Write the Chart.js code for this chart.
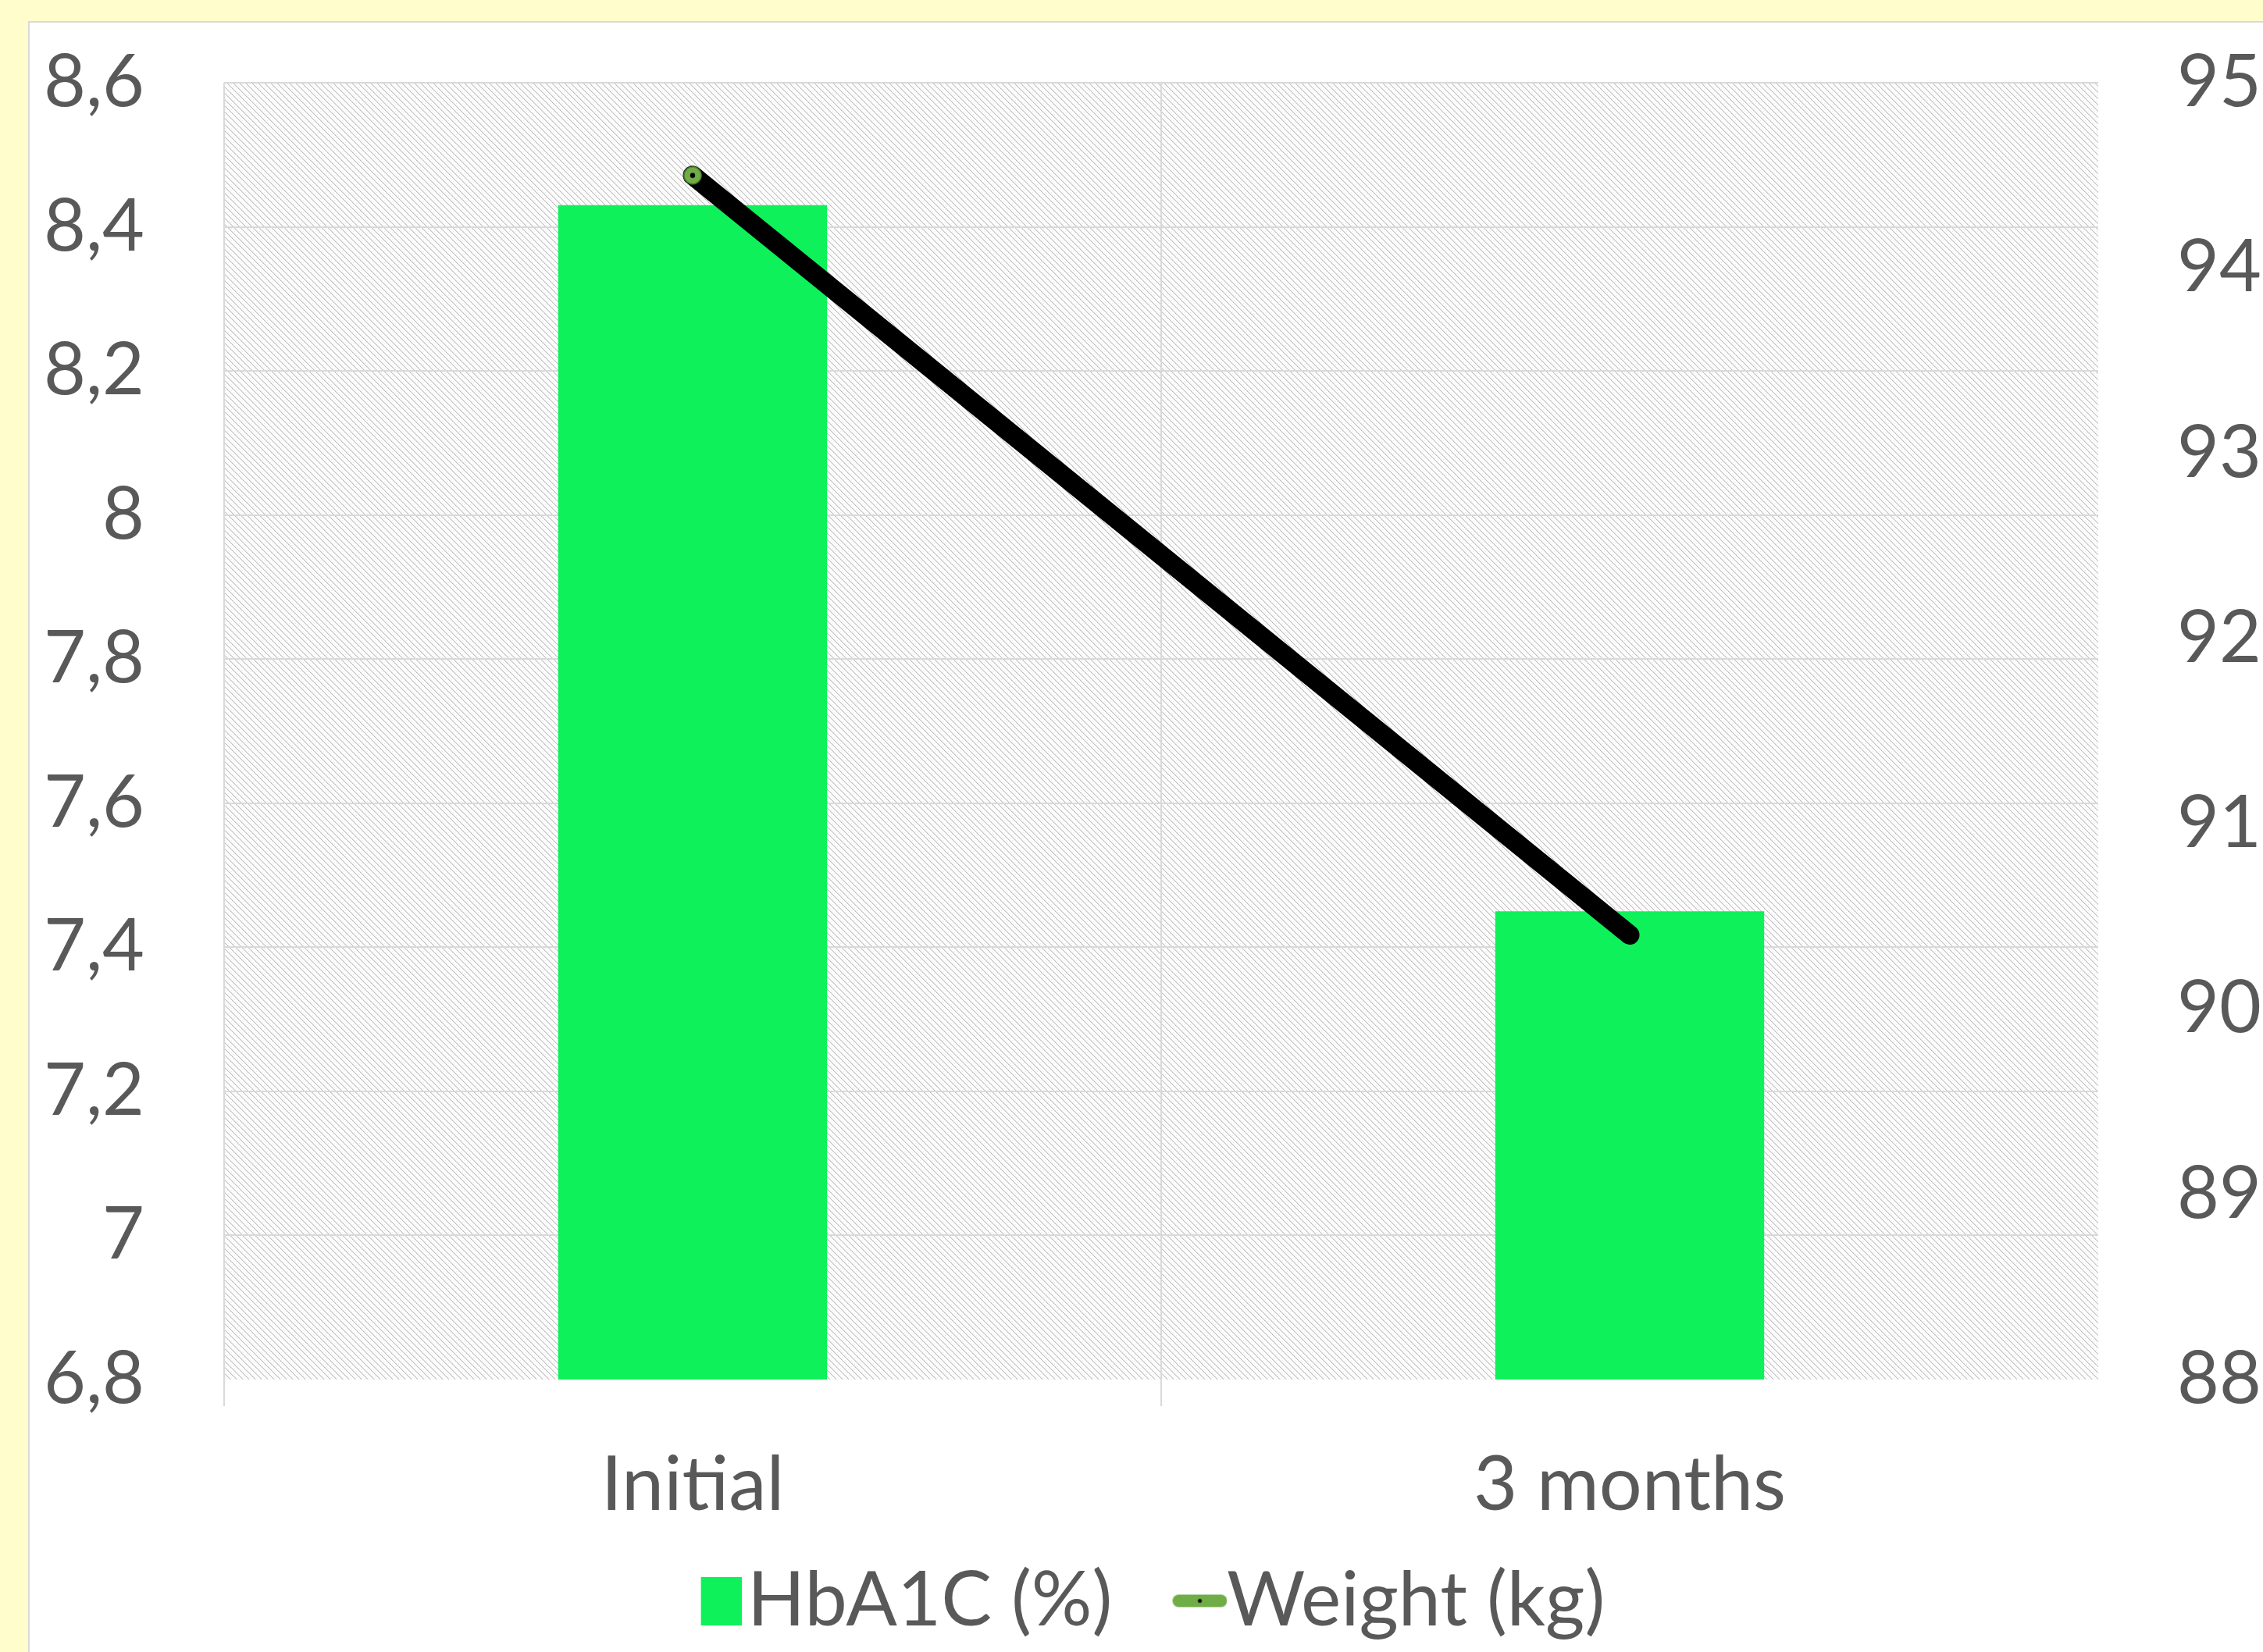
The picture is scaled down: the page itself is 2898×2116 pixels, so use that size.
<!DOCTYPE html>
<html><head><meta charset="utf-8">
<script src="https://cdn.jsdelivr.net/npm/chart.js@4/dist/chart.umd.min.js"></script>
<style>
html,body{margin:0;padding:0;background:#FFFDCC;width:2898px;height:2116px;overflow:hidden;}
#panel{position:absolute;left:36px;top:27px;right:0;bottom:0;background:#ffffff;border-left:2px solid #d9d9d9;border-top:2px solid #d9d9d9;}
canvas{position:absolute;left:0;top:0;}
</style></head><body>
<div id="panel"></div>
<canvas id="c" width="2898" height="2116"></canvas>
<script>
const categories = ['Initial', '3 months'];
const seriesNames = ['HbA1C (%)', 'Weight (kg)'];
const hba1cValues = [8.43, 7.45];
const weightValues = [94.5, 90.4];
const leftTickLabels = ['6,8', '7', '7,2', '7,4', '7,6', '7,8', '8', '8,2', '8,4', '8,6'];
const rightTickLabels = ['88', '89', '90', '91', '92', '93', '94', '95'];

const TEXT = '#595959';
const GRID = '#d9d9d9';
const BAR = '#0EF15A';
const MARK = '#70AD47';
const FONT = 'Lato';
const FS = 93;
const FS2 = 97;
const CLEAR = 'rgba(0,0,0,0)';

function mk(w, h, fn) { const c = document.createElement('canvas'); c.width = w; c.height = h; fn(c.getContext('2d')); return c; }

// hatch tile for plot background
const tile = mk(8, 8, g => {
  g.fillStyle = '#ffffff'; g.fillRect(0, 0, 8, 8);
  for (let i = 0; i < 8; i++) {
    g.fillStyle = (i % 2) ? '#bdbdbd' : '#cacaca';
    g.fillRect(i, i, 1, 1);
    g.fillStyle = '#dedede';
    g.fillRect((i + 1) % 8, i, 1, 1);
    if (i % 2 === 0) { g.fillStyle = '#ececec'; g.fillRect((i + 4) % 8, i, 1, 1); }
  }
});

// point marker
const markerImg = mk(28, 28, g => {
  g.beginPath(); g.arc(14, 14, 11, 0, Math.PI * 2);
  g.fillStyle = MARK; g.fill();
  g.lineWidth = 1.5; g.strokeStyle = '#4e7d31'; g.stroke();
  g.beginPath(); g.arc(14, 14, 3.2, 0, Math.PI * 2); g.fillStyle = '#000'; g.fill();
});

// legend swatches (shape placed at the right side of the image)
const legBar = mk(170, 62, g => { g.fillStyle = BAR; g.fillRect(118, 0, 52, 62); });
const legLine = mk(186, 20, g => {
  const x0 = 116, w = 70, h = 16, y0 = 2, r = 8;
  g.beginPath();
  g.moveTo(x0 + r, y0); g.lineTo(x0 + w - r, y0); g.arc(x0 + w - r, y0 + r, r, -Math.PI / 2, Math.PI / 2);
  g.lineTo(x0 + r, y0 + h); g.arc(x0 + r, y0 + r, r, Math.PI / 2, Math.PI * 1.5); g.closePath();
  g.fillStyle = MARK; g.fill();
  g.beginPath(); g.arc(x0 + w / 2, y0 + h / 2, 2.5, 0, Math.PI * 2); g.fillStyle = '#000'; g.fill();
});

const bgPlugin = {
  id: 'plotBg',
  beforeDraw(chart) {
    const { ctx, chartArea: a } = chart;
    ctx.save();
    ctx.fillStyle = ctx.createPattern(tile, 'repeat');
    ctx.fillRect(a.left, a.top, a.right - a.left, a.bottom - a.top);
    ctx.restore();
  }
};

function draw() {
  new Chart(document.getElementById('c'), {
    data: {
      labels: categories,
      datasets: [
        {
          type: 'bar', label: seriesNames[0], data: hba1cValues, yAxisID: 'y',
          backgroundColor: BAR, borderWidth: 0, barPercentage: 0.287, categoryPercentage: 1, order: 2
        },
        {
          type: 'line', label: seriesNames[1], data: weightValues, yAxisID: 'y1',
          borderColor: '#000000', borderWidth: 25, borderCapStyle: 'round', tension: 0,
          pointStyle: markerImg, pointRadius: c => c.dataIndex === 0 ? 11 : 0, pointHoverRadius: 0, order: 1
        }
      ]
    },
    options: {
      responsive: false, animation: false, devicePixelRatio: 1,
      layout: { padding: { top: 106, left: -22, right: 0, bottom: 7 } },
      plugins: {
        tooltip: { enabled: false },
        legend: {
          position: 'bottom',
          labels: {
            usePointStyle: true, boxWidth: 88, boxHeight: 60, padding: 10,
            color: TEXT, font: { family: FONT, size: FS2 },
            generateLabels: () => [
              { text: seriesNames[0], pointStyle: legBar, fillStyle: BAR, strokeStyle: BAR, lineWidth: 0, hidden: false, datasetIndex: 0, fontColor: TEXT },
              { text: seriesNames[1], pointStyle: legLine, fillStyle: MARK, strokeStyle: MARK, lineWidth: 0, hidden: false, datasetIndex: 1, fontColor: TEXT }
            ]
          }
        }
      },
      scales: {
        x: {
          type: 'category', offset: true,
          grid: { offset: true, color: c => c.index === undefined ? CLEAR : GRID, lineWidth: 2, tickLength: 34, drawTicks: true },
          border: { display: false },
          ticks: { color: TEXT, font: { family: FONT, size: FS2 }, padding: 44, maxRotation: 0 },
          afterFit: s => { s.height = 225; }
        },
        y: {
          position: 'left', min: 6.8, max: 8.6,
          ticks: { stepSize: 0.2, color: TEXT, font: { family: FONT, size: FS }, padding: 0,
                   callback: (v, i) => leftTickLabels[i] },
          grid: { color: c => c.index === 0 ? CLEAR : GRID, lineWidth: 2, drawTicks: true, tickLength: 102, tickColor: CLEAR },
          border: { display: false },
          afterFit: s => { s.width = 309; }
        },
        y1: {
          position: 'right', min: 88, max: 95,
          ticks: { stepSize: 1, color: TEXT, font: { family: FONT, size: FS }, padding: 0,
                   callback: (v, i) => rightTickLabels[i] },
          grid: { drawOnChartArea: false, drawTicks: true, tickLength: 101, tickColor: CLEAR },
          border: { display: false },
          afterFit: s => { s.width = 211; }
        }
      }
    },
    plugins: [bgPlugin]
  });
}
(document.fonts && document.fonts.load ? Promise.all([document.fonts.load(FS + 'px ' + FONT), document.fonts.load(FS2 + 'px ' + FONT)]) : Promise.resolve()).then(draw, draw);
</script>
</body></html>
